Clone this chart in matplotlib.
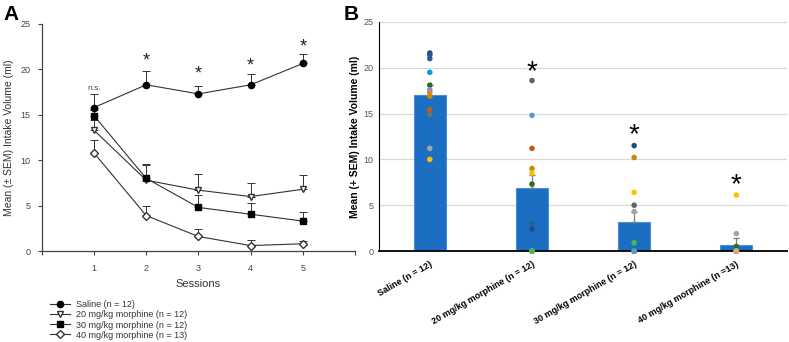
import matplotlib.pyplot as plt
from matplotlib.lines import Line2D
import numpy as np

plt.rcParams['font.family'] = ['Liberation Sans', 'DejaVu Sans']

# panel A: mean intake per session
sessions = [1, 2, 3, 4, 5]
saline = [15.8, 18.3, 17.3, 18.3, 20.65]
saline_err = [1.5, 1.5, 0.9, 1.2, 1.05]
m20 = [13.3, 7.8, 6.7, 6.0, 6.8]
m20_err = [1.1, 1.7, 1.8, 1.5, 1.6]
m30 = [14.9, 8.0, 4.8, 4.05, 3.3]
m30_err = [0.6, 1.6, 1.4, 1.25, 1.0]
m40 = [10.8, 3.9, 1.6, 0.6, 0.8]
m40_err = [1.4, 1.1, 0.8, 0.6, 0.35]
star_a_sessions = [2, 3, 4, 5]
star_a_y = [20.9, 19.5, 20.4, 22.5]

# panel B: overall mean + individual animals
groups = ['Saline (n = 12)', '20 mg/kg morphine (n = 12)',
          '30 mg/kg morphine (n = 12)', '40 mg/kg morphine (n =13)']
group_means = [17.0, 6.9, 3.2, 0.62]
group_sem = [1.1, 1.4, 1.1, 0.8]
star_b_y = [None, 19.5, 12.6, 7.2]

saline_pts = [21.6, 21.4, 21.0, 19.5, 18.1, 17.6, 17.3, 16.9, 15.4, 14.9, 11.2, 10.0]
saline_cols = ['#1f4e79', '#245a8f', '#1f5f94', '#0a9ce0', '#2e6b1f', '#6f96e0',
               '#ed7d31', '#bf8f00', '#c55a11', '#707070', '#a5a5a5', '#ffc000']
m20_pts = [18.6, 14.8, 11.2, 9.0, 8.5, 7.3, 3.0, 2.4, 0, 0, 0, 0]
m20_cols = ['#636363', '#5b9bd5', '#c55a11', '#bf8f00', '#ffc000', '#2e6b1f',
            '#1f6391', '#1f4e79', '#a5a5a5', '#ed7d31', '#0a9ce0', '#4cb944']
m30_pts = [11.5, 10.2, 6.4, 5.0, 4.3, 0.9, 0, 0, 0, 0, 0, 0]
m30_cols = ['#1f4e79', '#bf8f00', '#ffc000', '#636363', '#a5a5a5', '#4cb944',
            '#2e6b1f', '#ed7d31', '#c55a11', '#1f6391', '#0a9ce0', '#5b9bd5']
m40_pts = [6.1, 1.9, 0.5, 0, 0, 0, 0, 0, 0, 0, 0, 0, 0]
m40_cols = ['#ffc000', '#a5a5a5', '#2e6b1f', '#1f4e79', '#bf8f00', '#636363',
            '#c55a11', '#1f6391', '#0a9ce0', '#5b9bd5', '#4cb944', '#6f96e0', '#f4a460']

fig = plt.figure(figsize=(7.89, 3.42), dpi=100)
axA = fig.add_axes([0.053, 0.266, 0.397, 0.664])
axB = fig.add_axes([0.480, 0.266, 0.518, 0.67])

# ---- panel A
lc = '#333333'
styles = [('o', 'black', 4.5), ('v', 'white', 5), ('s', 'black', 4.2), ('D', 'white', 4.2)]
series = [(saline, saline_err), (m20, m20_err), (m30, m30_err), (m40, m40_err)]
handles = []
for (vals, err), (mk, fc, ms) in zip(series, styles):
    axA.errorbar(sessions, vals, yerr=[np.zeros(len(err)), err], fmt='-' + mk,
                 color=lc, mfc=fc, mec=lc if fc == 'white' else 'black', ms=ms, lw=0.8,
                 capsize=3, elinewidth=0.7, capthick=0.7)
    handles.append(Line2D([], [], color=lc, lw=0.8, marker=mk, mfc=fc,
                          mec=lc if fc == 'white' else 'black', ms=ms))
for s, y in zip(star_a_sessions, star_a_y):
    axA.text(s, y, '*', ha='center', va='center', fontsize=13, color='#222222')
axA.text(1, 17.9, 'n.s.', ha='center', va='center', fontsize=6, color='#444444')

axA.set_xlim(0, 6)
axA.set_ylim(0, 25)
axA.set_xticks([0, 1, 2, 3, 4, 5, 6])
axA.set_xticklabels(['', '1', '2', '3', '4', '5', ''])
axA.set_yticks([0, 5, 10, 15, 20, 25])
axA.tick_params(labelsize=6.5, colors='#444444', length=3, width=0.8, pad=5)
axA.tick_params(axis='x', pad=6)
for sp in ['top', 'right']:
    axA.spines[sp].set_visible(False)
for sp in ['left', 'bottom']:
    axA.spines[sp].set_color('#444444')
    axA.spines[sp].set_linewidth(0.9)
axA.set_xlabel('Sessions', fontsize=8, color='#333333', labelpad=5)
axA.set_ylabel('Mean (± SEM) Intake Volume (ml)', fontsize=7.5, color='#333333', labelpad=5)

fig.legend(handles,
           ['Saline (n = 12)', '20 mg/kg morphine (n = 12)',
            '30 mg/kg morphine (n = 12)', '40 mg/kg morphine (n = 13)'],
           loc='upper left', bbox_to_anchor=(0.058, 0.135), frameon=False,
           fontsize=6.5, handlelength=2.2, handletextpad=0.6, labelspacing=0.12,
           borderpad=0, labelcolor='#333333')

# ---- panel B
x = np.arange(len(groups))
axB.bar(x, group_means, width=0.31, color='#1b6ec2', edgecolor='#4a90d9', linewidth=0.8, zorder=2)
axB.errorbar(x, group_means, yerr=[np.zeros(4), group_sem], fmt='none',
             ecolor='#7f7f7f', elinewidth=0.9, capsize=2, zorder=3)
for i, (pts, cols) in enumerate([(saline_pts, saline_cols), (m20_pts, m20_cols),
                                 (m30_pts, m30_cols), (m40_pts, m40_cols)]):
    axB.scatter([x[i]] * len(pts), pts, s=16, c=cols, zorder=4, clip_on=False, linewidths=0)
for i, y in enumerate(star_b_y):
    if y is not None:
        axB.text(x[i], y, '*', ha='center', va='center', fontsize=20, color='black')

axB.set_xlim(-0.5, 3.5)
axB.set_ylim(0, 25)
axB.set_yticks([0, 5, 10, 15, 20, 25])
axB.yaxis.grid(True, color='#d9d9d9', lw=0.9, zorder=0)
axB.set_axisbelow(True)
axB.set_xticks(x)
axB.set_xticklabels(groups, rotation=30, ha='right', rotation_mode='anchor',
                    fontsize=6.5, fontweight='bold')
axB.tick_params(axis='x', length=0, pad=6)
axB.tick_params(axis='y', length=0, labelsize=6.5, colors='#555555', pad=4)
for sp in ['top', 'right']:
    axB.spines[sp].set_visible(False)
axB.spines['left'].set_color('black')
axB.spines['bottom'].set_color('black')
axB.spines['bottom'].set_linewidth(1.3)
axB.set_ylabel('Mean (+ SEM) Intake Volume (ml)', fontsize=7.5, fontweight='bold', labelpad=2)

fig.text(0.004, 0.985, 'A', fontsize=15, fontweight='bold', va='top')
fig.text(0.436, 0.985, 'B', fontsize=15, fontweight='bold', va='top')

fig.savefig('out.png', dpi=100)
